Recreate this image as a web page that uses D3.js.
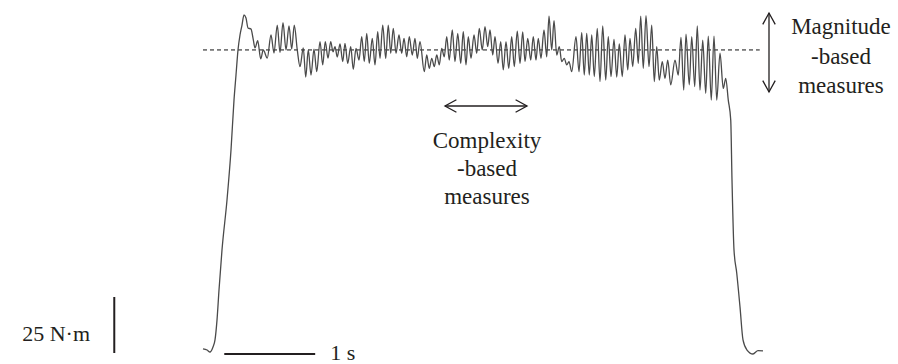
<!DOCTYPE html>
<html>
<head>
<meta charset="utf-8">
<script src="https://cdn.jsdelivr.net/npm/d3@7"></script>
<style>
  html, body { margin: 0; padding: 0; background: #fff; }
  svg { display: block; }
</style>
</head>
<body>
<div id="chart"></div>
<script>
const width = 898, height = 364;

// torque trace: time (s) and torque (N·m)
const traceTime = [
  0.066, 0.110, 0.143, 0.176, 0.198, 0.220, 0.242, 0.275, 0.330, 0.374, 0.407, 0.429, 0.451, 0.473,
  0.495, 0.517, 0.539, 0.561, 0.594, 0.616, 0.638, 0.668, 0.701, 0.729, 0.773, 0.814, 0.847, 0.883,
  0.913, 0.946, 0.979, 1.012, 1.042, 1.070, 1.103, 1.133, 1.169, 1.196, 1.224, 1.254, 1.287, 1.317,
  1.353, 1.383, 1.411, 1.441, 1.471, 1.496, 1.518, 1.543, 1.573, 1.603, 1.628, 1.658, 1.691, 1.719,
  1.749, 1.782, 1.812, 1.840, 1.867, 1.895, 1.928, 1.958, 1.988, 2.013, 2.043, 2.076, 2.104, 2.131,
  2.159, 2.189, 2.222, 2.252, 2.277, 2.307, 2.335, 2.368, 2.398, 2.423, 2.453, 2.500, 2.527, 2.555,
  2.582, 2.610, 2.637, 2.665, 2.692, 2.720, 2.747, 2.775, 2.808, 2.838, 2.868, 2.901, 2.929, 2.959,
  2.984, 3.014, 3.047, 3.077, 3.105, 3.138, 3.168, 3.198, 3.223, 3.253, 3.278, 3.311, 3.341, 3.369,
  3.399, 3.429, 3.462, 3.490, 3.523, 3.553, 3.583, 3.608, 3.638, 3.671, 3.699, 3.729, 3.754, 3.784,
  3.817, 3.847, 3.872, 3.902, 3.927, 3.957, 3.985, 4.012, 4.040, 4.067, 4.092, 4.122, 4.169, 4.202,
  4.232, 4.260, 4.287, 4.315, 4.342, 4.370, 4.403, 4.433, 4.463, 4.496, 4.524, 4.554, 4.587, 4.617,
  4.645, 4.678, 4.708, 4.738, 4.763, 4.793, 4.826, 4.854, 4.881, 4.909, 4.939, 4.972, 5.002, 5.030,
  5.057, 5.085, 5.118, 5.148, 5.178, 5.211, 5.258, 5.294, 5.324, 5.354, 5.379, 5.415, 5.442, 5.475,
  5.503, 5.533, 5.563, 5.596, 5.624, 5.657, 5.687, 5.717, 5.753, 5.789, 5.816, 5.844, 5.871, 5.885,
  5.907, 5.937, 5.973, 6.006, 6.050, 6.116, 6.171, 6.226
];
const traceTorque = [
  1.4, 0.9, 0.0, 2.3, 5.5, 14.5, 28.2, 46.4, 69.1, 91.8, 114.5, 125.9, 137.3, 144.1,
  148.6, 153.2, 151.8, 147.3, 146.8, 142.7, 138.2, 141.5, 133.2, 137.3, 133.6, 144.1, 135.9, 148.6,
  136.1, 149.7, 137.3, 148.2, 137.7, 148.6, 137.3, 129.7, 138.2, 125.0, 137.3, 125.9, 137.7, 127.4,
  141.1, 130.5, 141.1, 133.6, 141.1, 136.4, 138.8, 134.1, 140.0, 132.0, 140.3, 131.2, 138.8, 128.5,
  138.0, 132.7, 143.3, 132.0, 144.8, 131.2, 142.6, 130.5, 145.6, 133.5, 148.6, 133.5, 148.6, 135.8,
  147.1, 135.8, 144.1, 135.8, 142.6, 134.2, 143.3, 135.0, 142.6, 133.5, 141.1, 127.4, 135.0, 128.9,
  133.5, 129.7, 135.0, 130.5, 138.0, 134.2, 143.3, 132.7, 146.4, 132.0, 144.8, 131.2, 145.6, 130.5,
  143.3, 133.5, 144.1, 135.8, 147.1, 137.3, 147.9, 138.8, 146.4, 135.0, 143.3, 131.2, 141.1, 128.2,
  141.1, 128.9, 143.3, 129.7, 145.8, 131.2, 145.5, 132.0, 142.6, 132.7, 143.3, 132.7, 142.6, 133.5,
  146.4, 134.2, 152.7, 137.3, 150.6, 135.0, 138.8, 132.0, 133.5, 130.5, 132.0, 127.4, 143.3, 127.4,
  145.2, 125.9, 144.8, 125.9, 144.1, 125.2, 147.1, 122.9, 148.2, 123.6, 143.3, 125.2, 142.1, 125.0,
  140.0, 125.2, 144.1, 128.2, 142.6, 129.7, 147.1, 131.2, 152.7, 128.9, 152.9, 129.7, 148.6, 122.9,
  138.8, 123.6, 132.0, 124.4, 132.7, 121.4, 132.7, 125.9, 143.0, 119.1, 144.5, 121.4, 143.3, 120.6,
  148.2, 119.1, 141.8, 117.6, 143.6, 114.5, 143.6, 114.5, 135.8, 119.8, 124.4, 114.5, 105.5, 78.2,
  46.4, 35.9, 20.5, 5.5, 0.9, -0.9, 0.6, 0.5
];

// reference level (dashed) and the two scale bars
const targetTorque = 137.3;
const targetSpan = [0.066, 6.19];
const timeBar = [0.3, 1.3];        // 1 s
const torqueBar = [0, 25];         // 25 N·m
const torqueBarTime = -0.91;

const magnitudeLines = ['Magnitude', '-based', 'measures'];
const complexityLines = ['Complexity', '-based', 'measures'];

const trace = traceTime.map((t, i) => ({ t, v: traceTorque[i] }));

const x = d3.scaleLinear().domain([0, 6.6]).range([197, 797]);
const y = d3.scaleLinear().domain([0, 160]).range([352, 0]);

const svg = d3.select('#chart').append('svg')
  .attr('width', width)
  .attr('height', height)
  .attr('font-family', '"Liberation Serif", "Times New Roman", Times, serif');

// Dashed target level
svg.append('line')
  .attr('x1', x(targetSpan[0]))
  .attr('x2', x(targetSpan[1]))
  .attr('y1', y(targetTorque))
  .attr('y2', y(targetTorque))
  .attr('stroke', '#111')
  .attr('stroke-width', 1)
  .attr('stroke-dasharray', '4,3');

// Torque trace
const line = d3.line()
  .x((d) => x(d.t))
  .y((d) => y(d.v))
  .curve(d3.curveMonotoneX);

svg.append('path')
  .datum(trace)
  .attr('d', line)
  .attr('fill', 'none')
  .attr('stroke', '#4a4a4a')
  .attr('stroke-width', 1.3);

// Scale bars
svg.append('line') // 1 s
  .attr('x1', x(timeBar[0]))
  .attr('x2', x(timeBar[1]))
  .attr('y1', y(0) + 2)
  .attr('y2', y(0) + 2)
  .attr('stroke', '#231f20')
  .attr('stroke-width', 2);

svg.append('text')
  .attr('x', x(timeBar[1]) + 15)
  .attr('y', 360)
  .attr('fill', '#231f20')
  .style('font-size', '22px')
  .text('1 s');

svg.append('line') // 25 N·m
  .attr('x1', x(torqueBarTime))
  .attr('x2', x(torqueBarTime))
  .attr('y1', y(torqueBar[0]) + 1)
  .attr('y2', y(torqueBar[1]))
  .attr('stroke', '#231f20')
  .attr('stroke-width', 2);

svg.append('text')
  .attr('x', 90)
  .attr('y', 341)
  .attr('text-anchor', 'end')
  .attr('fill', '#231f20')
  .style('font-size', '22px')
  .text('25 N·m');

// Arrows with open heads
const arrow = (x1, y1, x2, y2) => {
  const g = svg.append('g')
    .attr('stroke', '#231f20')
    .attr('stroke-width', 1.3)
    .attr('fill', 'none');
  g.append('line').attr('x1', x1).attr('y1', y1).attr('x2', x2).attr('y2', y2);
  const ang = Math.atan2(y2 - y1, x2 - x1);
  const head = (px, py, a) => {
    const len = 13, spread = 0.5;
    g.append('path').attr('d',
      `M${px + len * Math.cos(a + spread)},${py + len * Math.sin(a + spread)} L${px},${py} L${px + len * Math.cos(a - spread)},${py + len * Math.sin(a - spread)}`);
  };
  head(x1, y1, ang);
  head(x2, y2, ang + Math.PI);
};

arrow(769, 13, 769, 92);
arrow(445, 106, 527, 106);

// Annotation labels
const label = (lines, cx, y0, step) => {
  svg.append('g')
    .selectAll('text')
    .data(lines)
    .enter()
    .append('text')
    .attr('x', cx)
    .attr('y', (d, i) => y0 + i * step)
    .attr('text-anchor', 'middle')
    .attr('fill', '#231f20')
    .style('font-size', '23px')
    .text((d) => d);
};

label(magnitudeLines, 841, 34, 29.5);
label(complexityLines, 487, 148, 28);
</script>
</body>
</html>
